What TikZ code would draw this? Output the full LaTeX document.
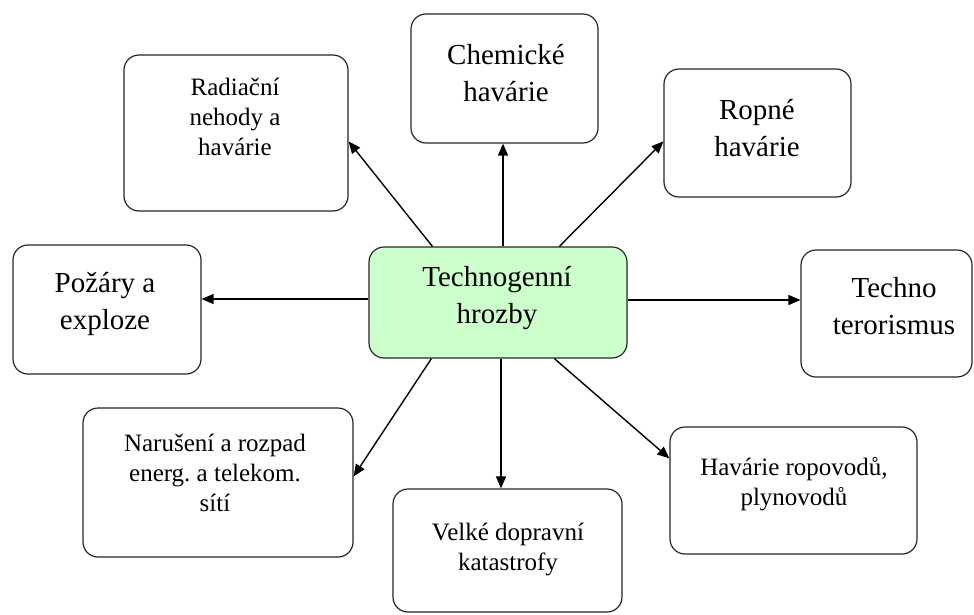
\documentclass[tikz,border=0pt]{standalone}
\usepackage{fontspec}
\setmainfont{Liberation Serif}
\usetikzlibrary{arrows.meta,calc}
\definecolor{centergreen}{RGB}{204,255,204}
\frenchspacing
\begin{document}
\begin{tikzpicture}[x=1pt,y=-1pt,
  box/.style={draw=black!85,line width=1.2pt,rounded corners=15pt,inner sep=0pt,fill=white},
  bigtext/.style={align=center,inner sep=0pt,font=\rmfamily\fontsize{29}{37}\selectfont},
  smalltext/.style={align=center,inner sep=0pt,font=\rmfamily\fontsize{25}{30}\selectfont},
  arr/.style={-{Triangle[length=12pt,width=10pt]},line width=1.4pt,draw=black}]
\useasboundingbox[fill=white] (0,0) rectangle (974,614);

% boxes
\node[box,minimum width=224pt,minimum height=156pt] (rad) at (236,133) {};
\node[box,minimum width=187pt,minimum height=129pt] (chem) at (504.5,78.5) {};
\node[box,minimum width=187pt,minimum height=128pt] (rop) at (757.5,133) {};
\node[box,minimum width=188pt,minimum height=129pt] (poz) at (107,309.5) {};
\node[box,minimum width=171pt,minimum height=127pt] (tech) at (886.5,313.5) {};
\node[box,fill=centergreen,minimum width=258pt,minimum height=111pt] (c) at (498,302.5) {};
\node[box,minimum width=270pt,minimum height=149pt] (nar) at (218,482.5) {};
\node[box,minimum width=229pt,minimum height=123pt] (velk) at (507.5,550.5) {};
\node[box,minimum width=247pt,minimum height=127pt] (hav) at (793.5,490.5) {};

% texts
\node[smalltext] (radt) at (235,117) {Radiační\\nehody a\\havárie};
\node[bigtext] (chemt) at (506,73) {Chemické\\havárie};
\node[bigtext] (ropt) at (757,128) {Ropné\\havárie};
\node[bigtext] (pozt) at (105,304) {Požáry a\\exploze};
\node[bigtext] (techt) at (894,306) {Techno\\terorismus};
\node[bigtext] (ct) at (497,298) {Technogenní\\hrozby};
\node[smalltext] (nart) at (215,473) {Narušení a rozpad\\energ. a telekom.\\sítí};
\node[smalltext] (velkt) at (508,549) {Velké dopravní\\katastrofy};
\node[smalltext] (havt) at (794,484) {Havárie ropovodů,\\plynovodů};

% connectors
\draw[arr] ($(c.north west)+(64,0)$) -- ($(rad.north east)+(0,87)$);
\draw[arr] ($(c.north)+(5,0)$) -- ($(chem.south)+(-1.5,0)$);
\draw[arr] ($(c.north west)+(191,0)$) -- ($(rop.north west)+(0,73)$);
\draw[arr] ($(c.west)+(0,-3.5)$) -- ($(poz.east)+(0,-10.5)$);
\draw[arr] ($(c.east)+(0,-2.5)$) -- ($(tech.west)+(0,-13.5)$);
\draw[arr] ($(c.south west)+(63,0)$) -- ($(nar.north east)+(0,69)$);
\draw[arr] ($(c.south)+(3,0)$) -- ($(velk.north)+(-6.5,0)$);
\draw[arr] ($(c.south west)+(186,0)$) -- ($(hav.north west)+(0,32)$);
\end{tikzpicture}
\end{document}
